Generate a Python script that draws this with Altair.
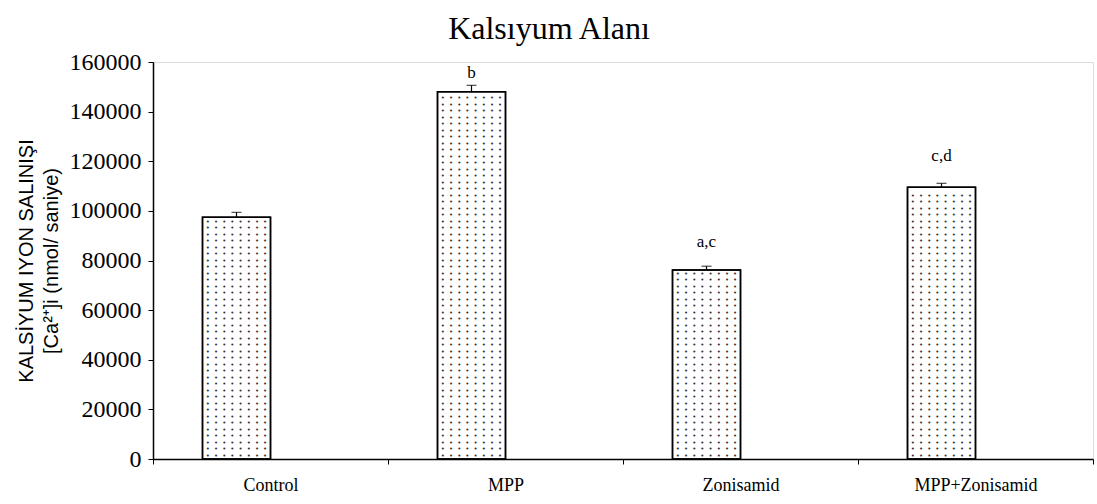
import altair as alt
import pandas as pd

categories = ["Control", "MPP", "Zonisamid", "MPP+Zonisamid"]
values = [97400, 148000, 76200, 109500]
errors = [2000, 2600, 1500, 1600]
letters = ["", "b", "a,c", "c,d"]
letter_level = [0, 153500, 85500, 120000]
y_ticks = [0, 20000, 40000, 60000, 80000, 100000, 120000, 140000, 160000]

df = pd.DataFrame({
    "cat": categories,
    "value": values,
    "err": errors,
    "label": letters,
    "label_y": letter_level,
})

SERIF = "Liberation Serif, Times New Roman, serif"
SANS = "Liberation Sans, Arial, sans-serif"

x_enc = alt.X(
    "cat:N",
    sort=categories,
    scale=alt.Scale(paddingInner=0, paddingOuter=0),
    axis=alt.Axis(
        title=None,
        labelAngle=0,
        labelFontSize=18,
        labelPadding=12,
        tickBand="extent",
    ),
)
y_scale = alt.Scale(domain=[0, 160000], nice=False, zero=True)
y_axis = alt.Axis(
    values=y_ticks,
    format="d",
    labelFontSize=24,
    labelPadding=7,
    title=["KALSİYUM IYON SALINIŞI", "[Ca²⁺]i (nmol/ saniye)"],
    titleFont=SANS,
    titleFontSize=20,
    titleFontWeight="normal",
    titleLineHeight=25,
    titlePadding=8,
)

base = alt.Chart(df)

bars = base.mark_bar(
    size=68, xOffset=-34, fill="white", stroke="black", strokeWidth=1.5
).encode(
    x=x_enc,
    y=alt.Y("value:Q", scale=y_scale, axis=y_axis),
)

dots = base.transform_calculate(
    rows="sequence(1300, datum.value - 800, 2620)"
).transform_flatten(["rows"]).mark_text(
    text="• • • • • • • •",
    font="DejaVu Sans Mono",
    fontSize=6.8,
    color="#333333",
    xOffset=-34,
    baseline="middle",
    align="center",
).encode(
    x=alt.X("cat:N", sort=categories),
    y=alt.Y("rows:Q", scale=y_scale),
)

outline = base.mark_bar(
    size=68, xOffset=-34, fill="transparent", stroke="black", strokeWidth=1.5
).encode(x=alt.X("cat:N", sort=categories), y=alt.Y("value:Q", scale=y_scale))

err_base = base.transform_calculate(top="datum.value + datum.err")

err_rule = err_base.mark_rule(color="black", strokeWidth=1.2, xOffset=-34).encode(
    x=alt.X("cat:N", sort=categories),
    y=alt.Y("value:Q", scale=y_scale),
    y2="top:Q",
)

err_cap = err_base.mark_tick(
    color="black", size=10, thickness=1.2, xOffset=-34, orient="horizontal"
).encode(
    x=alt.X("cat:N", sort=categories),
    y=alt.Y("top:Q", scale=y_scale),
)

labels = base.mark_text(
    font=SERIF, fontSize=17, color="black", baseline="alphabetic", align="center", xOffset=-34
).encode(
    x=alt.X("cat:N", sort=categories),
    y=alt.Y("label_y:Q", scale=y_scale),
    text="label:N",
)

chart = alt.layer(bars, dots, outline, err_rule, err_cap, labels).properties(
    width=940,
    height=397,
    title="Kalsıyum Alanı",
    autosize=alt.AutoSizeParams(type="none"),
    padding={"left": 153, "top": 62, "right": 4, "bottom": 45},
).configure_view(
    stroke=None
).configure(
    background="white"
).configure_axis(
    labelFont=SERIF,
    labelColor="black",
    tickSize=5,
    tickColor="black",
    tickWidth=1,
    domainColor="black",
    domainWidth=1.5,
    grid=False,
    titleColor="black",
).configure_title(
    font=SERIF,
    fontSize=32,
    fontWeight="normal",
    color="black",
    anchor="middle",
    dx=-74,
    offset=0,
)

chart.save("out.html", embed_options={"renderer": "svg", "actions": False})
